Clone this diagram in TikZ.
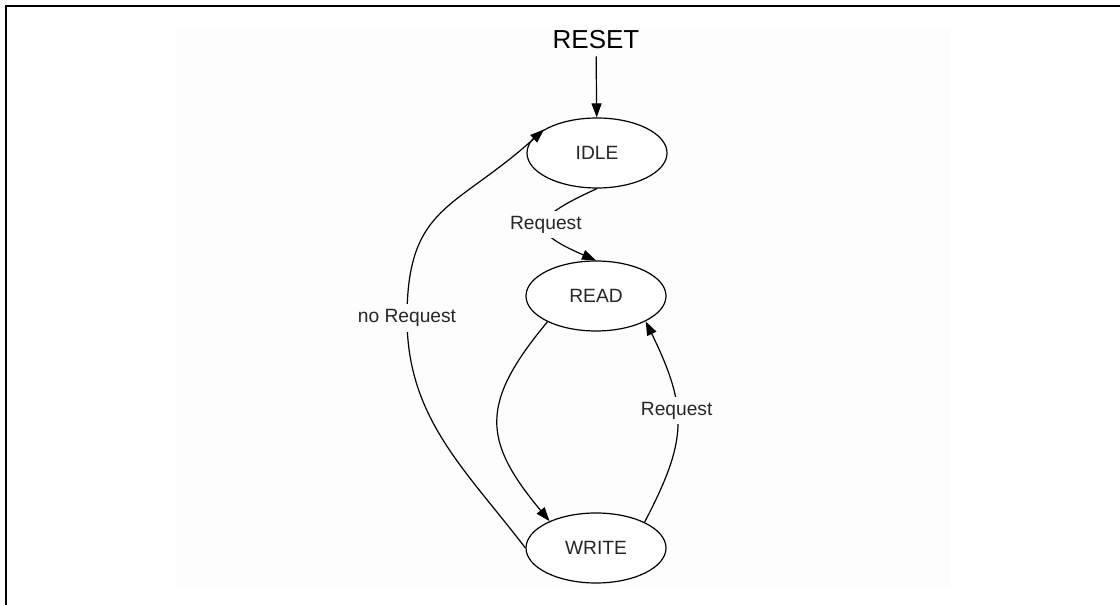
\documentclass[tikz,border=0pt]{standalone}
\usepackage{fontspec}
\setmainfont{Liberation Sans}
\usetikzlibrary{arrows.meta,shapes.geometric}
\definecolor{panel}{gray}{0.993}
\tikzset{
  state/.style={ellipse,draw,line width=0.6pt,fill=white,minimum width=70pt,minimum height=35pt,
    inner sep=0pt,text=black!85,font=\fontsize{9.6}{11}\selectfont},
  lbl/.style={fill=panel,inner sep=2.5pt,text=black!85,font=\fontsize{9.6}{11}\selectfont},
  trans/.style={line width=0.6pt,-{Triangle[length=7pt,width=5pt]}}
}
\begin{document}
\begin{tikzpicture}[x=0.5pt,y=0.5pt]
  \useasboundingbox (0,0) rectangle (1120,605);
  \clip (0,0) rectangle (1120,605);
  \fill[panel] (176,18) rectangle (950,577);
  \draw[line width=1.25pt] (6,-20) -- (6,599) -- (1140,599);
  % states
  \node[font=\fontsize{13}{15}\selectfont] (reset) at (596,565) {RESET};
  \node[state] (idle) at (597,452) {IDLE};
  \node[state] (read) at (596,309) {READ};
  \node[state] (write) at (596,57) {WRITE};
  \coordinate (turn) at (407,287);
  % transitions
  \draw[trans] (reset) -- (idle);
  \draw[trans] (idle.south) .. controls (530,386) and (528,374) .. (read.north)
    node[lbl,pos=0.5] {Request};
  \draw[trans] (read.208) .. controls (480,202) and (482,165) .. (write.150);
  \draw[trans] (write.28) .. controls (687,164) and (689,195) .. (read.333)
    node[lbl,pos=0.58] {Request};
  \draw[trans] (write.west) .. controls (465,136) and (407,187) .. (turn)
    .. controls (407,400) and (455,395) .. (idle.156);
  \node[lbl] at (turn) {no Request};
\end{tikzpicture}
\end{document}
